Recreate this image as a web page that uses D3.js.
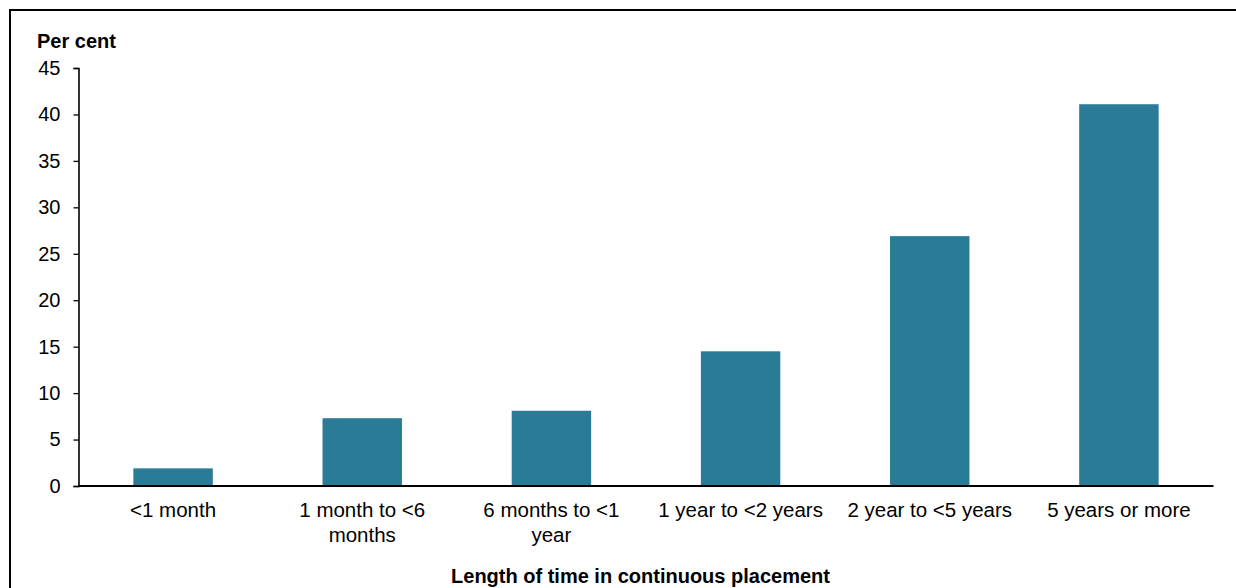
<!DOCTYPE html>
<html>
<head>
<meta charset="utf-8">
<script src="https://cdn.jsdelivr.net/npm/d3@7"></script>
<style>
  body { margin: 0; background: #fff; }
  svg text { font-family: "Liberation Sans", Arial, sans-serif; fill: #000; }
</style>
</head>
<body>
<div id="chart-area"></div>
<script>
// data
var categories = ["<1 month", "1 month to <6 months", "6 months to <1 year",
  "1 year to <2 years", "2 year to <5 years", "5 years or more"];
var labelLines = [["<1 month"], ["1 month to <6", "months"], ["6 months to <1", "year"],
  ["1 year to <2 years"], ["2 year to <5 years"], ["5 years or more"]];
var values = [1.9, 7.3, 8.1, 14.5, 26.9, 41.1];
var yTicks = [0, 5, 10, 15, 20, 25, 30, 35, 40, 45];

var W = 1236, H = 588;
var plotLeft = 78.5, plotRight = 1213.5, plotTop = 68, plotBottom = 486;

var svg = d3.select("#chart-area")
  .append("svg")
  .attr("width", W)
  .attr("height", H);

// frame
svg.append("path")
  .attr("d", "M10," + H + "V10H" + W)
  .attr("fill", "none")
  .attr("stroke", "#000")
  .attr("stroke-width", 2);

var x = d3.scaleBand()
  .domain(categories)
  .range([plotLeft, plotRight])
  .paddingInner(0.58)
  .paddingOuter(0.29);

var y = d3.scaleLinear()
  .domain([0, 45])
  .range([plotBottom, plotTop]);

svg.selectAll("rect.bar")
  .data(values)
  .enter()
  .append("rect")
  .attr("class", "bar")
  .attr("x", (d, i) => x(categories[i]))
  .attr("y", (d) => y(d))
  .attr("width", x.bandwidth())
  .attr("height", (d) => y(0) - y(d))
  .attr("fill", "#2a7c96");

// y axis
var yAxis = svg.append("g")
  .attr("transform", "translate(" + plotLeft + ",0)")
  .call(d3.axisLeft(y).tickValues(yTicks).tickSize(5).tickSizeOuter(5).tickPadding(13));
yAxis.select(".domain").attr("stroke", "#000").attr("stroke-width", 1.6);
yAxis.selectAll(".tick line").attr("stroke", "#000").attr("stroke-width", 1.3);
yAxis.selectAll("text")
  .attr("font-size", 20)
  .attr("font-family", "Liberation Sans, Arial, sans-serif");

// x axis baseline
svg.append("line")
  .attr("x1", plotLeft).attr("x2", plotRight)
  .attr("y1", y(0)).attr("y2", y(0))
  .attr("stroke", "#000")
  .attr("stroke-width", 2);

// category labels
var lab = svg.selectAll("text.cat")
  .data(categories)
  .enter()
  .append("text")
  .attr("class", "cat")
  .attr("text-anchor", "middle")
  .attr("font-size", 20.5)
  .attr("x", (d) => x(d) + x.bandwidth() / 2)
  .attr("y", 517);
lab.each(function (d, i) {
  var t = d3.select(this);
  labelLines[i].forEach(function (line, j) {
    t.append("tspan")
      .attr("x", x(d) + x.bandwidth() / 2)
      .attr("dy", j === 0 ? 0 : 25)
      .text(line);
  });
});

svg.append("text")
  .attr("x", 37)
  .attr("y", 48)
  .attr("font-size", 20)
  .attr("font-weight", "bold")
  .text("Per cent");

svg.append("text")
  .attr("x", 640.5)
  .attr("y", 583)
  .attr("text-anchor", "middle")
  .attr("font-size", 20)
  .attr("font-weight", "bold")
  .text("Length of time in continuous placement");
</script>
</body>
</html>
